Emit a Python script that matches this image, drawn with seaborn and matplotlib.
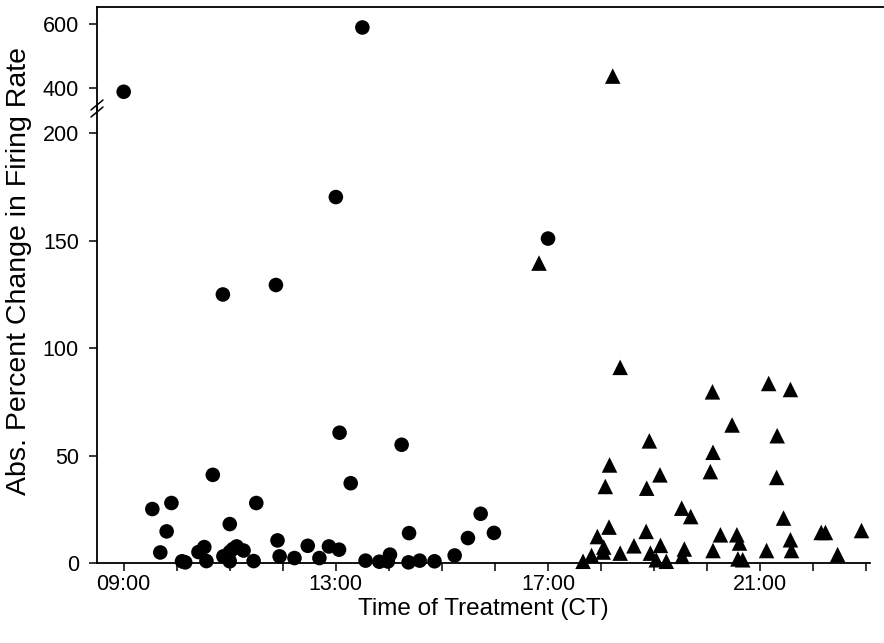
import matplotlib
matplotlib.use("Agg")
import matplotlib.pyplot as plt
import numpy as np
import pandas as pd
import seaborn as sns

###### data (hours CT, abs. % change)
circle_time = [9.00, 9.54, 9.69, 9.81, 9.90, 10.10, 10.16, 10.41, 10.52, 10.56,
               10.68, 10.87, 10.88, 11.00, 11.00, 11.00, 11.06, 11.13, 11.26, 11.45,
               11.50, 11.87, 11.90, 11.94, 12.22, 12.47, 12.69, 12.87, 13.00, 13.06,
               13.07, 13.28, 13.50, 13.56, 13.82, 13.98, 14.02, 14.24, 14.37, 14.38,
               14.58, 14.86, 15.24, 15.49, 15.73, 15.98, 17.00]
circle_change = [388, 25.1, 4.9, 14.7, 27.9, 0.8, 0.3, 5.1, 7.4, 0.9,
                 41.0, 124.9, 3.1, 18.1, 5.1, 0.8, 6.5, 7.7, 5.8, 0.9,
                 27.9, 129.3, 10.5, 3.1, 2.3, 8.0, 2.3, 7.7, 170.2, 6.2,
                 60.6, 37.1, 589, 1.1, 0.6, 0.7, 3.9, 55.0, 0.3, 13.9,
                 1.1, 0.8, 3.5, 11.6, 22.9, 14.0, 150.9]

tri_time = [16.83, 18.22, 18.36, 20.10, 21.16, 21.57, 18.91, 18.16, 18.08, 18.86,
            19.11, 20.11, 20.06, 19.52, 19.69, 18.15, 17.93, 18.85, 18.05, 18.04,
            17.82, 17.66, 18.36, 18.62, 18.93, 19.12, 19.04, 19.23, 19.57, 19.53,
            20.11, 20.47, 21.32, 21.31, 21.44, 20.25, 20.56, 20.61, 20.58, 20.67,
            21.12, 21.57, 21.59, 22.15, 22.23, 22.46, 22.91]
tri_change = [139.5, 437, 91.0, 79.6, 83.5, 80.7, 56.8, 45.6, 35.6, 34.8,
              41.0, 51.5, 42.5, 25.5, 21.6, 16.7, 12.3, 14.7, 7.4, 5.1,
              3.5, 0.8, 4.6, 8.0, 4.6, 8.2, 1.5, 0.8, 6.5, 3.1,
              5.8, 64.2, 59.2, 39.8, 20.9, 13.1, 13.1, 9.3, 1.9, 1.5,
              5.8, 10.8, 5.8, 14.2, 14.2, 3.9, 15.1]

hour_ticks = list(range(9, 24))
hour_labels = ["09:00", "13:00", "17:00", "21:00"]

df = pd.concat([
    pd.DataFrame({"time": circle_time, "change": circle_change, "group": "circle"}),
    pd.DataFrame({"time": tri_time, "change": tri_change, "group": "triangle"}),
], ignore_index=True)

low = df[df["change"] <= 250]
high = df[df["change"] > 250]

sns.set_style("ticks")
plt.rcParams["font.family"] = ["Liberation Sans", "DejaVu Sans"]
plt.rcParams["text.color"] = "black"
plt.rcParams["axes.labelcolor"] = "black"

W, H = 884, 643
fig = plt.figure(figsize=(W / 100, H / 100), dpi=100)

# axes boxes in pixels: left 97, right 870, bottom line 563, break 110, top 7
x0, x1 = 8.497, 23.07
ax = fig.add_axes([97 / W, (H - 563) / H, (870 - 97) / W, (563 - 110) / H])
ax_top = fig.add_axes([97 / W, (H - 110) / H, (W - 97) / W, (110 - 7) / H])

markers = {"circle": "o", "triangle": "^"}
sizes = {"circle": 110, "triangle": 125}

for g, sub in low.groupby("group"):
    sns.scatterplot(data=sub, x="time", y="change", marker=markers[g], s=sizes[g],
                    color="black", edgecolor="none", linewidth=0, ax=ax,
                    clip_on=False, zorder=3, legend=False)
for g, sub in high.groupby("group"):
    sns.scatterplot(data=sub, x="time", y="change", marker=markers[g], s=sizes[g],
                    color="black", edgecolor="none", linewidth=0, ax=ax_top,
                    zorder=3, legend=False)

### lower axis
ax.set_xlim(x0, x1)
ax.set_ylim(0, 210.7)
ax.set_yticks([0, 50, 100, 150, 200])
ax.set_xticks(hour_ticks)
ax.set_xticklabels([f"{h:02d}:00" if f"{h:02d}:00" in hour_labels else "" for h in hour_ticks])
for s in ["top", "right"]:
    ax.spines[s].set_visible(False)
ax.set_xlabel("Time of Treatment (CT)", fontsize=17.5, labelpad=2)
ax.set_ylabel("")

### upper axis (same x scale, box stretches to the right edge)
ax_top.set_xlim(x0, x0 + (x1 - x0) * (W - 97) / (870 - 97))
ax_top.set_ylim(331, 653)
ax_top.set_yticks([400, 600])
ax_top.set_xticks([])
for s in ["bottom", "right"]:
    ax_top.spines[s].set_visible(False)
ax_top.set_xlabel("")
ax_top.set_ylabel("")

for a in (ax, ax_top):
    a.tick_params(axis="both", direction="out", length=6, width=1.1,
                  labelsize=15.5, colors="black", pad=7)
    for s in a.spines.values():
        s.set_linewidth(1.3)
        s.set_color("black")
ax.tick_params(axis="x", pad=2)

# break marks on the left spine
bx = 97 / W
for yc in (105, 112):
    yf = (H - yc) / H
    fig.add_artist(plt.Line2D([bx - 6 / W, bx + 6 / W], [yf - 5 / H, yf + 5 / H],
                              color="black", lw=1.1))
fig.add_artist(plt.Line2D([bx, bx], [(H - 112) / H, (H - 105) / H], color="black", lw=1.3))

fig.text(19 / W, (H - 271) / H, "Abs. Percent Change in Firing Rate", rotation=90,
         ha="center", va="center", fontsize=20.5)

fig.savefig("out.png", dpi=100)
